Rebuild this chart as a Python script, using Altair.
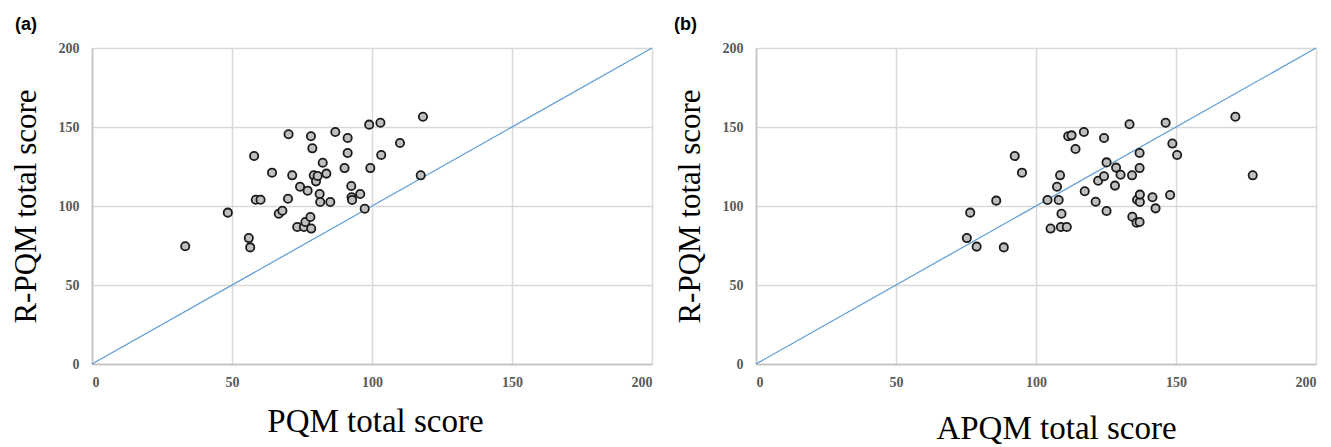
import altair as alt
import pandas as pd

# Panel (a): PQM vs R-PQM
pqm_a = [33.3, 48.5, 56.0, 56.5, 57.9, 58.5, 60.2, 64.3, 66.7, 68.0, 70.0, 70.2, 71.5,
         73.3, 74.3, 75.7, 76.2, 77.0, 78.0, 78.2, 78.3, 78.7, 79.2, 80.0, 80.6, 81.3,
         81.5, 82.4, 83.7, 85.1, 86.9, 90.2, 91.3, 91.3, 92.6, 92.7, 92.9, 95.8, 97.4,
         99.0, 99.4, 103.0, 103.3, 110.0, 117.4, 118.2]
rpqm_a = [74.5, 95.8, 79.7, 73.8, 131.6, 104.0, 104.0, 121.1, 95.1, 97.0, 104.6, 145.4, 119.4,
          86.7, 112.2, 86.7, 89.9, 109.7, 93.0, 144.1, 85.7, 136.5, 119.4, 115.6, 119.0, 107.6,
          102.5, 127.4, 120.5, 102.5, 146.8, 124.0, 143.0, 133.5, 112.7, 105.5, 103.8, 107.6, 98.3,
          151.5, 124.0, 152.7, 132.3, 139.9, 119.4, 156.5]

# Panel (b): APQM vs R-PQM
apqm_b = [75.3, 76.5, 78.8, 85.8, 88.5, 92.4, 95.0, 104.1, 105.2, 107.5, 108.1, 108.6, 109.1,
          108.9, 111.0, 111.5, 112.7, 114.1, 117.1, 117.4, 121.3, 122.2, 124.3, 124.3, 125.2,
          125.2, 128.2, 128.6, 130.2, 133.4, 134.3, 134.4, 135.9, 137.0, 136.1, 137.1, 137.1,
          137.0, 137.0, 141.6, 142.7, 146.3, 147.9, 148.7, 150.4, 171.2, 177.4]
rpqm_b = [79.7, 95.8, 74.3, 103.4, 73.8, 131.6, 121.1, 103.8, 85.7, 112.2, 103.8, 119.4, 95.1,
          86.7, 86.7, 144.1, 144.7, 136.1, 146.8, 109.3, 102.7, 116.0, 143.0, 118.8, 127.6,
          96.8, 112.9, 124.3, 119.8, 151.7, 119.4, 93.2, 89.4, 89.9, 104.0, 102.5, 107.2,
          124.0, 133.5, 105.5, 98.5, 152.7, 107.0, 139.5, 132.3, 156.5, 119.4]

diag = [0, 200]
ticks = [0, 50, 100, 150, 200]

W, H = 560, 316


def panel(xs, ys, xtitle, label, label_x, xtitle_x, xtitle_y):
    df = pd.DataFrame({"x": xs, "y": ys})
    ldf = pd.DataFrame({"x": diag, "y": diag})
    xscale = alt.Scale(domain=[0, 200], nice=False, zero=False)
    yscale = alt.Scale(domain=[0, 200], nice=False, zero=False)
    xaxis = alt.Axis(values=ticks, title=xtitle, grid=True, ticks=False,
                     labelPadding=11, labelFont="Liberation Serif", labelFontWeight="bold",
                     labelFontSize=14, labelColor="#595959",
                     titleFont="Liberation Serif", titleFontWeight="normal", titleFontSize=33,
                     titleColor="black", titleBaseline="alphabetic",
                     titleX=xtitle_x, titleY=xtitle_y, titleAlign="center")
    yaxis = alt.Axis(values=ticks, title="R-PQM total score", grid=True, ticks=False,
                     labelPadding=13, labelFont="Liberation Serif", labelFontWeight="bold",
                     labelFontSize=14, labelColor="#595959",
                     titleFont="Liberation Serif", titleFontWeight="normal", titleFontSize=31,
                     titleColor="black", titleBaseline="alphabetic", titleAngle=270,
                     titleX=-57, titleY=H / 2, titleAlign="center")
    line = alt.Chart(ldf).mark_line(color="#5b9bd5", strokeWidth=1.2).encode(
        x=alt.X("x:Q", scale=xscale, axis=xaxis),
        y=alt.Y("y:Q", scale=yscale, axis=yaxis),
    )
    pts = alt.Chart(df).mark_point(
        shape="circle", filled=True, fill="#bfbfbf", stroke="#1a1a1a",
        strokeWidth=1.8, size=68, opacity=1,
    ).encode(x=alt.X("x:Q", scale=xscale), y=alt.Y("y:Q", scale=yscale))
    lab = alt.Chart(pd.DataFrame({"t": [label]})).mark_text(
        align="left", baseline="alphabetic", font="Liberation Sans",
        fontWeight="bold", fontSize=18, color="black",
    ).encode(x=alt.value(label_x), y=alt.value(-18), text="t:N")
    return alt.layer(line, pts, lab).properties(width=W, height=H)


a = panel(pqm_a, rpqm_a, "PQM total score", "(a)", -77, W / 2 + 3, 67)
b = panel(apqm_b, rpqm_b, "APQM total score", "(b)", -82, W / 2 + 20, 74)

chart = alt.hconcat(a, b, spacing=104, bounds="flush").properties(
    padding={"left": 2, "top": 8, "right": 0, "bottom": 0}
).configure_view(stroke=None).configure_axis(
    gridColor="#d9d9d9", gridWidth=1.5, domainColor="#bfbfbf", domainWidth=1.5
)

chart.save("out.html", embed_options={"renderer": "svg", "actions": False})
